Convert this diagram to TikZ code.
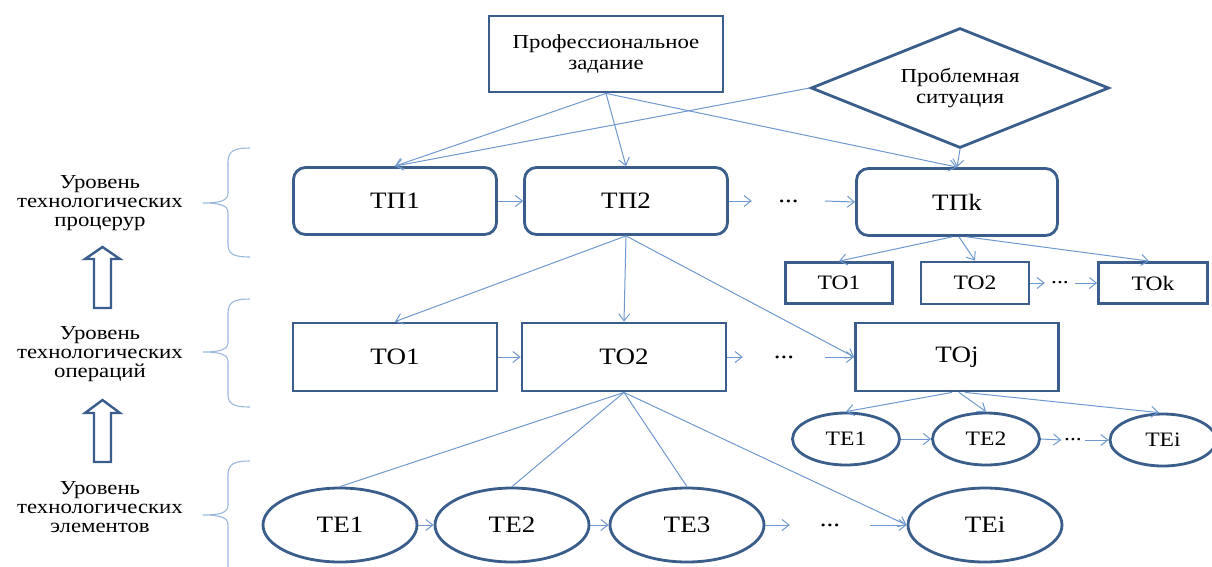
\documentclass[tikz,border=0pt]{standalone}
\usepackage{fontspec}
\setmainfont{Liberation Serif}[FakeStretch=1.15]
\usetikzlibrary{shapes.geometric,arrows.meta}
\definecolor{boxc}{HTML}{3A5D8B}
\definecolor{linec}{HTML}{6F98CE}
\definecolor{bracec}{HTML}{9AB8DC}
\tikzset{
  box/.style={draw=boxc, line width=2.8pt, fill=white, inner sep=0pt},
  rbox/.style={box, rectangle, rounded corners=12pt},
  sbox/.style={box, rectangle},
  ell/.style={box, ellipse},
  bigt/.style={font=\fontsize{23.5}{27}\selectfont},
  smallt/.style={font=\fontsize{20.5}{23}\selectfont},
  lvl/.style={align=center, inner sep=0pt, font=\fontsize{19.8}{18.8}\selectfont},
  dotsn/.style={inner sep=0pt, minimum height=20pt},
  con/.style={draw=linec, line width=1pt, -{Straight Barb[length=7pt,width=11pt]}},
  plainc/.style={draw=linec, line width=1pt},
  brace/.style={draw=bracec, line width=1.1pt},
  hollow/.style={draw=boxc, line width=2.4pt, fill=white, line join=miter}
}
\begin{document}
\begin{tikzpicture}[x=1pt,y=-1pt]
\useasboundingbox (0,0) rectangle (1212,566);

% level labels
\node[lvl] (l1) at (100,203) {Уровень\\технологических\\процерур};
\node[lvl] (l2) at (100,354) {Уровень\\технологических\\операций};
\node[lvl] (l3) at (100,507) {Уровень\\технологических\\элементов};

% hollow arrows
\draw[hollow] (94,308) -- (94,259) -- (85,259) -- (102.5,247) -- (120,259) -- (111,259) -- (111,308) -- cycle;
\draw[hollow] (94,462) -- (94,413) -- (85,413) -- (102.5,400) -- (120,413) -- (111,413) -- (111,462) -- cycle;

% braces
\draw[brace] (250,148) .. controls (236,148) and (228,150) .. (228,162) -- (228,193) .. controls (228,200) and (222,203) .. (203,203) .. controls (222,203) and (228,206) .. (228,213) -- (228,245) .. controls (228,255) and (236,257) .. (250,257);
\draw[brace] (250,299) .. controls (236,299) and (228,301) .. (228,313) -- (228,342) .. controls (228,349) and (222,352) .. (203,352) .. controls (222,352) and (228,355) .. (228,362) -- (228,395) .. controls (228,405) and (236,407) .. (250,407);
\draw[brace] (250,461) .. controls (236,461) and (228,463) .. (228,475) -- (228,505) .. controls (228,512) and (222,515) .. (203,515) .. controls (222,515) and (228,518) .. (228,525) -- (228,580);

% top
\node[sbox, minimum width=234pt, minimum height=76pt, align=center, font=\fontsize{19.8}{21}\selectfont] (pz) at (606,54) {Профессиональное\\задание};
\node[box, diamond, aspect=2.5, minimum width=298pt, minimum height=120pt, align=center, font=\fontsize{19.8}{21}\selectfont] (ps) at (960,88) {Проблемная\\ситуация};

% procedures row
\node[rbox, bigt, minimum width=203pt, minimum height=67pt] (tp1) at (395,201) {ТП1};
\node[rbox, bigt, minimum width=203pt, minimum height=67pt] (tp2) at (626,201) {ТП2};
\node[dotsn, bigt, minimum width=73pt] (d1) at (788.5,201) {...};
\node[rbox, bigt, minimum width=201pt, minimum height=67pt] (tpk) at (957,202) {ТПk};

% small operations row
\node[sbox, smallt, minimum width=107pt, minimum height=41pt] (so1) at (839,283) {TO1};
\node[sbox, smallt, minimum width=108pt, minimum height=42pt] (so2) at (975,283) {TO2};
\node[dotsn, smallt, minimum width=30pt] (d2) at (1060,283) {...};
\node[sbox, smallt, minimum width=109pt, minimum height=41pt] (sok) at (1153,283) {TOk};

% operations row
\node[sbox, bigt, minimum width=204pt, minimum height=68pt] (to1) at (395,357) {TO1};
\node[sbox, bigt, minimum width=204pt, minimum height=68pt] (to2) at (624,357) {TO2};
\node[dotsn, bigt, minimum width=82pt] (d3) at (784,357) {...};
\node[sbox, bigt, minimum width=203pt, minimum height=68pt] (toj) at (957,357) {TOj};

% small elements row
\node[ell, smallt, minimum width=107pt, minimum height=52pt] (se1) at (846,439) {TE1};
\node[ell, smallt, minimum width=107pt, minimum height=52pt] (se2) at (986,439) {TE2};
\node[dotsn, smallt, minimum width=23pt] (d4) at (1073,440) {...};
\node[ell, smallt, minimum width=106pt, minimum height=52pt] (sei) at (1163,440) {TEi};

% elements row
\node[ell, bigt, minimum width=154pt, minimum height=74pt] (te1) at (340,525) {TE1};
\node[ell, bigt, minimum width=154pt, minimum height=74pt] (te2) at (512,525) {TE2};
\node[ell, bigt, minimum width=154pt, minimum height=74pt] (te3) at (687,525) {TE3};
\node[dotsn, bigt, minimum width=80pt] (d5) at (830,525) {...};
\node[ell, bigt, minimum width=154pt, minimum height=74pt] (tei) at (985,525) {TEi};

% connectors from top
\draw[con] (pz.south) -- (tp1.north);
\draw[con] (pz.south) -- (tp2.north);
\draw[con] (pz.south) -- (tpk.north);
\draw[con] (ps.west) -- (tp1.north);
\draw[con] (ps.south) -- (tpk.north);

% procedures chain
\draw[con] (tp1.east) -- (tp2.west);
\draw[con] (tp2.east) -- (d1.west);
\draw[con] (d1.east) -- (tpk.west);

% tpk to small ops
\draw[con] ([xshift=-5pt]tpk.south) -- (so1.north);
\draw[con] ([xshift=2pt]tpk.south) -- (so2.north);
\draw[con] ([xshift=10pt]tpk.south) -- ([xshift=-4pt]sok.north);
\draw[con] (so2.east) -- (d2.west);
\draw[con] (d2.east) -- (sok.west);

% tp2 to ops
\draw[con] (tp2.south) -- (to1.north);
\draw[con] (tp2.south) -- (to2.north);
\draw[con] (tp2.south) -- (toj.west);
\draw[con] (to1.east) -- (to2.west);
\draw[con] (to2.east) -- (d3.west);
\draw[con] (d3.east) -- (toj.west);

% toj to small elements
\draw[con] ([xshift=-5pt]toj.south) -- (se1.north);
\draw[con] ([xshift=2pt]toj.south) -- (se2.north);
\draw[con] ([xshift=8pt]toj.south) -- ([xshift=-4pt]sei.north);
\draw[con] (se1.east) -- (se2.west);
\draw[con] (se2.east) -- (d4.west);
\draw[con] (d4.east) -- (sei.west);

% to2 to elements
\draw[plainc] (to2.south) -- (te1.north);
\draw[plainc] (to2.south) -- (te2.north);
\draw[plainc] (to2.south) -- (te3.north);
\draw[con] (to2.south) -- (tei.west);
\draw[con] (te1.east) -- (te2.west);
\draw[con] (te2.east) -- (te3.west);
\draw[con] (te3.east) -- (d5.west);
\draw[con] (d5.east) -- (tei.west);
\end{tikzpicture}
\end{document}
